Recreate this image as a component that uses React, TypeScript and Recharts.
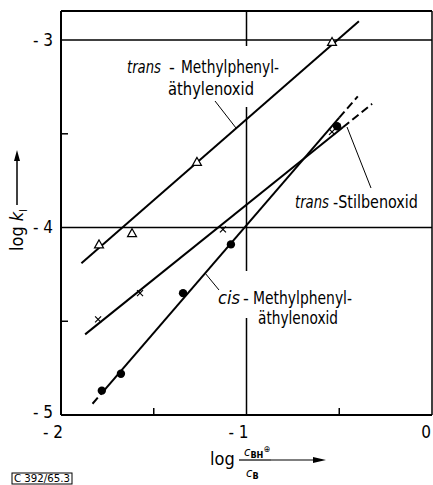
import { ComposedChart, Line, Scatter, XAxis, YAxis, ReferenceLine } from "recharts";

const FONT = "'DejaVu Sans Condensed', 'Liberation Sans Narrow', 'DejaVu Sans', sans-serif";

const xTicks = [-2, -1.5, -1, -0.5, 0];
const yTicks = [-5, -4.5, -4, -3.5, -3];
const yTop = -2.845;

// trans-Methylphenyläthylenoxid (open triangles)
const transMethylPoints = [
  { x: -1.795, y: -4.09 },
  { x: -1.617, y: -4.03 },
  { x: -1.267, y: -3.65 },
  { x: -0.539, y: -3.01 },
];
const transMethylFit = [
  { x: -1.89, y: -4.19 },
  { x: -0.394, y: -2.9 },
];

// trans-Stilbenoxid (crosses)
const stilbenPoints = [
  { x: -1.8, y: -4.49 },
  { x: -1.574, y: -4.35 },
  { x: -1.127, y: -4.01 },
  { x: -0.539, y: -3.49 },
];
const stilbenFit = [
  { x: -1.87, y: -4.57 },
  { x: -0.48, y: -3.465 },
];
const stilbenFitExt = [
  { x: -0.48, y: -3.465 },
  { x: -0.323, y: -3.34 },
];

// cis-Methylphenyläthylenoxid (filled circles)
const cisPoints = [
  { x: -1.78, y: -4.87 },
  { x: -1.677, y: -4.78 },
  { x: -1.342, y: -4.35 },
  { x: -1.084, y: -4.09 },
  { x: -0.512, y: -3.46 },
];
const cisFitLow = [
  { x: -1.83, y: -4.94 },
  { x: -1.78, y: -4.883 },
];
const cisFit = [
  { x: -1.78, y: -4.883 },
  { x: -0.5, y: -3.414 },
];
const cisFitExt = [
  { x: -0.5, y: -3.414 },
  { x: -0.4, y: -3.3 },
];

const Triangle = (p: any) => (
  <polygon
    points={`${p.cx},${p.cy - 4.5} ${p.cx - 4.5},${p.cy + 3.5} ${p.cx + 4.5},${p.cy + 3.5}`}
    fill="#fff"
    stroke="#000"
    strokeWidth={1.2}
  />
);

const Cross = (p: any) => (
  <g stroke="#000" strokeWidth={1.2}>
    <line x1={p.cx - 3} y1={p.cy - 3} x2={p.cx + 3} y2={p.cy + 3} />
    <line x1={p.cx - 3} y1={p.cy + 3} x2={p.cx + 3} y2={p.cy - 3} />
  </g>
);

const Dot = (p: any) => <circle cx={p.cx} cy={p.cy} r={4.2} fill="#000" />;

const isMajor = (v: number) => Number.isInteger(v);

const XTick = (p: any) => {
  const v = p.payload.value;
  if (!isMajor(v)) return <line x1={p.x} y1={p.y} x2={p.x} y2={p.y - 7} stroke="#000" strokeWidth={1.5} />;
  return (
    <text x={p.x + 2} y={p.y + 23} textAnchor="end" fontSize={17} fontFamily={FONT} fill="#000">
      {v === 0 ? "0" : `- ${Math.abs(v)}`}
    </text>
  );
};

const YTick = (p: any) => {
  const v = p.payload.value;
  if (!isMajor(v)) return <line x1={p.x} y1={p.y} x2={p.x + 7} y2={p.y} stroke="#000" strokeWidth={1.5} />;
  return (
    <text x={p.x - 8} y={p.y} dy={v === -5 ? "0.2em" : "0.35em"} textAnchor="end" fontSize={17} fontFamily={FONT} fill="#000">
      {`- ${Math.abs(v)}`}
    </text>
  );
};

const lineProps = {
  dataKey: "y",
  stroke: "#000",
  strokeWidth: 2,
  dot: false,
  activeDot: false,
  isAnimationActive: false,
  type: "linear" as const,
};

export default function App() {
  return (
    <div style={{ position: "relative", width: 433, height: 485, background: "#fff" }}>
      <style>{`body{margin:0}`}</style>
      <ComposedChart width={433} height={485} margin={{ top: 11, right: 1, bottom: 0, left: 0 }}>
        <XAxis
          type="number"
          dataKey="x"
          domain={[-2, 0]}
          ticks={xTicks}
          allowDataOverflow
          height={70}
          tickSize={0}
          tickMargin={0}
          tickLine={false}
          axisLine={{ stroke: "#000", strokeWidth: 2 }}
          tick={XTick}
        />
        <YAxis
          type="number"
          dataKey="y"
          domain={[-5, yTop]}
          ticks={yTicks}
          allowDataOverflow
          width={61}
          tickSize={0}
          tickMargin={0}
          tickLine={false}
          axisLine={{ stroke: "#000", strokeWidth: 2 }}
          tick={YTick}
        />
        <ReferenceLine y={-3} stroke="#000" strokeWidth={1.5} />
        <ReferenceLine y={-4} stroke="#000" strokeWidth={1.5} />
        <ReferenceLine x={-1} stroke="#000" strokeWidth={1.5} />
        <ReferenceLine y={yTop} stroke="#000" strokeWidth={2} />
        <ReferenceLine x={0} stroke="#000" strokeWidth={1.5} />

        <Line data={transMethylFit} {...lineProps} />
        <Line data={stilbenFit} {...lineProps} />
        <Line data={stilbenFitExt} {...lineProps} strokeDasharray="8 4" />
        <Line data={cisFitLow} {...lineProps} strokeDasharray="8 4" />
        <Line data={cisFit} {...lineProps} />
        <Line data={cisFitExt} {...lineProps} strokeDasharray="8 4" />

        <Scatter data={transMethylPoints} shape={Triangle} isAnimationActive={false} />
        <Scatter data={stilbenPoints} shape={Cross} isAnimationActive={false} />
        <Scatter data={cisPoints} shape={Dot} isAnimationActive={false} />
      </ComposedChart>

      <svg
        width={433}
        height={485}
        style={{ position: "absolute", left: 0, top: 0, pointerEvents: "none" }}
        fontFamily={FONT}
        fill="#000"
      >
        {/* gaps in the -1 grid line behind the labels */}
        <rect x={240} y={46} width={15} height={61} fill="#fff" />
        <rect x={240} y={271} width={15} height={47} fill="#fff" />

        {/* trans-Methylphenyläthylenoxid */}
        <text x={127} y={73} fontSize={18} fontStyle="italic" textLength={34} lengthAdjust="spacingAndGlyphs">trans</text>
        <text x={169} y={73} fontSize={18}>-</text>
        <text x={181} y={73} fontSize={18} textLength={98} lengthAdjust="spacingAndGlyphs">Methylphenyl-</text>
        <text x={168} y={95} fontSize={18} textLength={86} lengthAdjust="spacingAndGlyphs">äthylenoxid</text>
        <line x1={215} y1={101} x2={236} y2={128} stroke="#000" strokeWidth={1} />

        {/* trans-Stilbenoxid */}
        <text x={295} y={208} fontSize={18} fontStyle="italic" textLength={34} lengthAdjust="spacingAndGlyphs">trans</text>
        <text x={333} y={208} fontSize={18} textLength={85} lengthAdjust="spacingAndGlyphs">-Stilbenoxid</text>
        <line x1={347} y1={127} x2={371} y2={188} stroke="#000" strokeWidth={1} />

        {/* cis-Methylphenyläthylenoxid */}
        <text x={218} y={304} fontSize={18} fontStyle="italic" textLength={22} lengthAdjust="spacingAndGlyphs">cis</text>
        <text x={243} y={304} fontSize={18}>-</text>
        <text x={253} y={304} fontSize={18} textLength={99} lengthAdjust="spacingAndGlyphs">Methylphenyl-</text>
        <text x={258} y={324} fontSize={18} textLength={80} lengthAdjust="spacingAndGlyphs">äthylenoxid</text>
        <line x1={205} y1={273} x2={219} y2={290} stroke="#000" strokeWidth={1} />

        {/* y axis title */}
        <text transform="translate(23,251) rotate(-90)" fontSize={18}>
          log <tspan fontStyle="italic">k</tspan>
          <tspan fontSize={10} dy={4}>I</tspan>
        </text>
        <line x1={17} y1={205} x2={17} y2={158} stroke="#000" strokeWidth={1.5} />
        <polygon points="17,150 14,161 20,161" fill="#000" />

        {/* x axis title */}
        <text x={210} y={465} fontSize={18}>log</text>
        <text x={244} y={456} fontSize={13}>
          <tspan fontStyle="italic">c</tspan>
          <tspan fontSize={9} dy={2} fontWeight="bold">BH</tspan>
          <tspan fontSize={9} dy={-6}>⊕</tspan>
        </text>
        <line x1={239} y1={460} x2={271} y2={460} stroke="#000" strokeWidth={1.2} />
        <text x={246} y={477} fontSize={13}>
          <tspan fontStyle="italic">c</tspan>
          <tspan fontSize={9} dy={2} fontWeight="bold">B</tspan>
        </text>
        <line x1={271} y1={460} x2={318} y2={460} stroke="#000" strokeWidth={1.2} />
        <polygon points="326,460 313,457 313,463" fill="#000" />

        {/* figure code */}
        <rect x={12} y={473} width={60} height={11} fill="none" stroke="#000" strokeWidth={1} />
        <text x={14} y={482} fontSize={11} textLength={56} lengthAdjust="spacingAndGlyphs">C 392/65.3</text>
      </svg>
    </div>
  );
}
